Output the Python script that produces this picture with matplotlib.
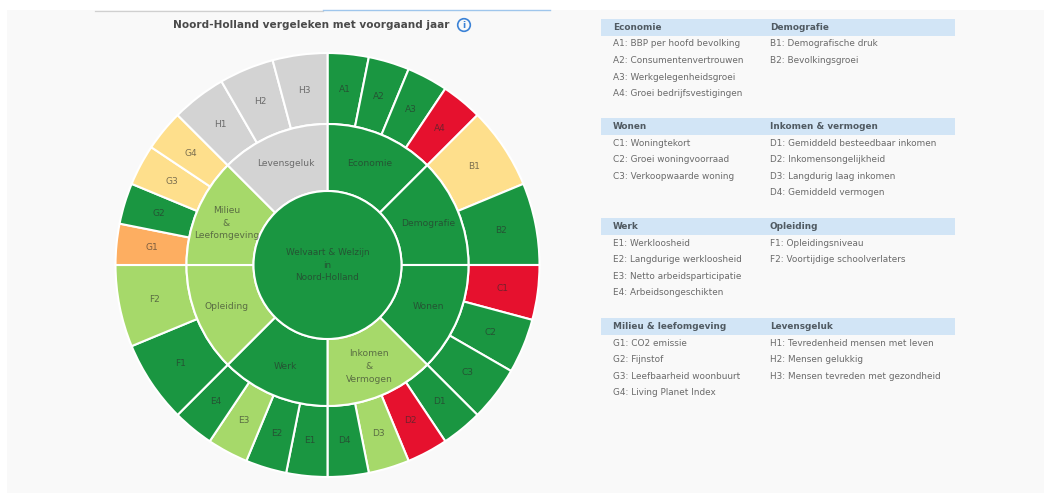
import matplotlib
matplotlib.use("Agg")
import matplotlib.pyplot as plt
from matplotlib.patches import Rectangle, Circle

# ---------- data ----------
categories = ["Economie", "Demografie", "Wonen", "Inkomen\n&\nVermogen",
              "Werk", "Opleiding", "Milieu\n&\nLeefomgeving", "Levensgeluk"]
cat_status = ["up", "up", "up", "up_light", "up", "up_light", "up_light", "none"]

indicators = [["A1", "A2", "A3", "A4"], ["B1", "B2"], ["C1", "C2", "C3"],
              ["D1", "D2", "D3", "D4"], ["E1", "E2", "E3", "E4"], ["F1", "F2"],
              ["G1", "G2", "G3", "G4"], ["H1", "H2", "H3"]]
ind_status = [["up", "up", "up", "down"], ["neutral", "up"], ["down", "up", "up"],
              ["up", "down", "up_light", "up"], ["up", "up", "up_light", "up"],
              ["up", "up_light"], ["down_light", "up", "neutral", "neutral"],
              ["none", "none", "none"]]

centre_label = "Welvaart & Welzijn\nin\nNoord-Holland"
centre_status = "up"

legend_titles = ["Economie", "Demografie", "Wonen", "Inkomen & vermogen",
                 "Werk", "Opleiding", "Milieu & leefomgeving", "Levensgeluk"]
legend_items = [
    ["A1: BBP per hoofd bevolking", "A2: Consumentenvertrouwen",
     "A3: Werkgelegenheidsgroei", "A4: Groei bedrijfsvestigingen"],
    ["B1: Demografische druk", "B2: Bevolkingsgroei"],
    ["C1: Woningtekort", "C2: Groei woningvoorraad", "C3: Verkoopwaarde woning"],
    ["D1: Gemiddeld besteedbaar inkomen", "D2: Inkomensongelijkheid",
     "D3: Langdurig laag inkomen", "D4: Gemiddeld vermogen"],
    ["E1: Werkloosheid", "E2: Langdurige werkloosheid",
     "E3: Netto arbeidsparticipatie", "E4: Arbeidsongeschikten"],
    ["F1: Opleidingsniveau", "F2: Voortijdige schoolverlaters"],
    ["G1: CO2 emissie", "G2: Fijnstof", "G3: Leefbaarheid woonbuurt",
     "G4: Living Planet Index"],
    ["H1: Tevredenheid mensen met leven", "H2: Mensen gelukkig",
     "H3: Mensen tevreden met gezondheid"],
]

COLORS = {"up": "#1a9641", "up_light": "#a6d96a", "neutral": "#fedf8c",
          "down_light": "#fdae61", "down": "#e6112e", "none": "#d3d3d3"}

W, H = 1044, 493
fig = plt.figure(figsize=(W / 100, H / 100), dpi=100)
fig.patch.set_facecolor("white")

# ---------- background, title, legend table (pixel coords) ----------
bg = fig.add_axes([0, 0, 1, 1])
bg.set_xlim(0, W); bg.set_ylim(H, 0); bg.axis("off")
bg.add_patch(Rectangle((7, 10), W - 7, H - 10, fc="#f9f9f9", ec="none"))
bg.plot([95, 323], [10.7, 10.7], color="#d0d0d0", lw=0.9)
bg.plot([323, 550], [10.2, 10.2], color="#9fc6ec", lw=1.0)

bg.text(311, 25, "Noord-Holland vergeleken met voorgaand jaar", ha="center",
        va="center", fontsize=7.6, fontweight="bold", color="#4a4a4a")
bg.add_patch(Circle((464, 25), 6.3, fc="none", ec="#3b82d6", lw=1.2))
bg.text(464, 25.5, "i", ha="center", va="center", fontsize=6.5,
        fontweight="bold", color="#3b82d6")

col_x = [613, 770]
block_y = [19, 118, 218, 318]
row_h = 16.6
for b in range(4):
    y0 = block_y[b]
    bg.add_patch(Rectangle((601, y0), 354, 16.5, fc="#d2e5f6", ec="none"))
    for c in range(2):
        k = 2 * b + c
        bg.text(col_x[c], y0 + 8.5, legend_titles[k], ha="left", va="center",
                fontsize=6.4, fontweight="bold", color="#505a62")
        for i, item in enumerate(legend_items[k]):
            bg.text(col_x[c], y0 + 25 + i * row_h, item, ha="left",
                    va="center", fontsize=6.4, color="#6a6a6a")

# ---------- sunburst ----------
cx, cy, half = 327.5, 265, 225
ax = fig.add_axes([(cx - half) / W, (H - cy - half) / H, 2 * half / W, 2 * half / H])
R_in, R_mid, R_out = 74, 141, 212

outer_sizes, outer_cols, outer_labels = [], [], []
for names, stats in zip(indicators, ind_status):
    for n, s in zip(names, stats):
        outer_sizes.append(1 / len(names))
        outer_cols.append(COLORS[s])
        outer_labels.append(n)

wp = dict(edgecolor="white", linewidth=1.5)
w_out, _ = ax.pie(outer_sizes, radius=R_out, colors=outer_cols, startangle=90,
                  counterclock=False, wedgeprops=dict(width=R_out - R_mid, **wp))
w_mid, _ = ax.pie([1] * len(categories), radius=R_mid,
                  colors=[COLORS[s] for s in cat_status], startangle=90,
                  counterclock=False, wedgeprops=dict(width=R_mid - R_in, **wp))
ax.pie([1], radius=R_in, colors=[COLORS[centre_status]], startangle=90,
       wedgeprops=dict(**wp))

import numpy as np
txt = dict(ha="center", va="center", color="#2b2b2b", alpha=0.62)
for wedge, lab in zip(w_out, outer_labels):
    a = np.deg2rad((wedge.theta1 + wedge.theta2) / 2)
    r = (R_out + R_mid) / 2
    ax.text(r * np.cos(a), r * np.sin(a), lab, fontsize=6.5, **txt)
for wedge, lab in zip(w_mid, categories):
    a = np.deg2rad((wedge.theta1 + wedge.theta2) / 2)
    r = (R_mid + R_in) / 2 + 2
    ax.text(r * np.cos(a), r * np.sin(a), lab, fontsize=6.6, linespacing=1.55, **txt)
ax.text(0, 0, centre_label, fontsize=6.4, linespacing=1.5, **txt)

ax.set_xlim(-half, half); ax.set_ylim(-half, half)
ax.set_aspect("equal"); ax.axis("off")

fig.savefig("out.png", dpi=100)
